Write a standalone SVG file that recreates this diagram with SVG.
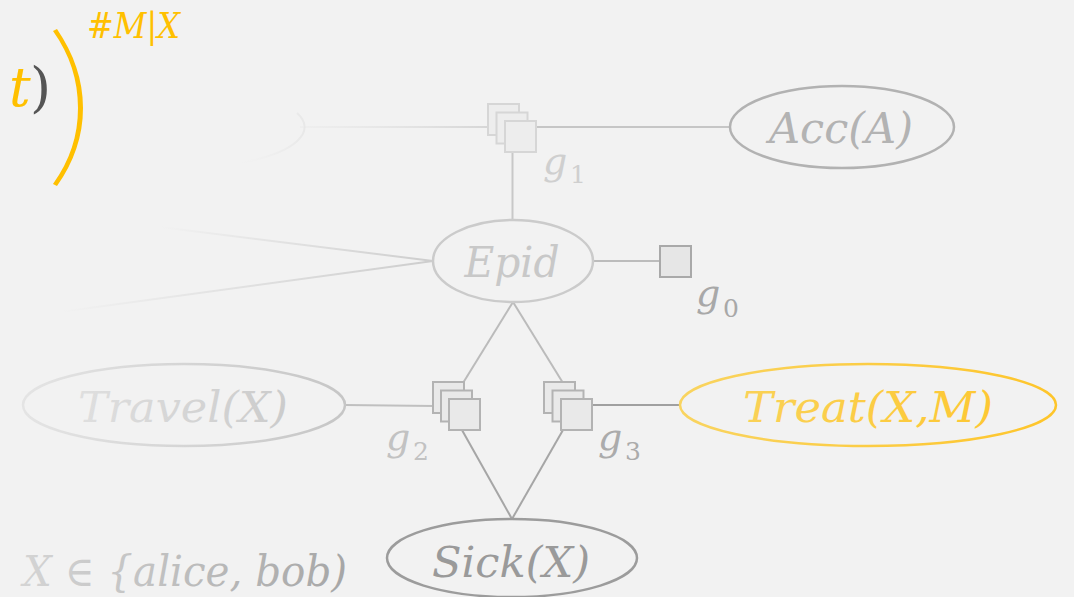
<svg xmlns="http://www.w3.org/2000/svg" width="1074" height="597" viewBox="0 0 1074 597">
  <style>
    .math { font-family: "DejaVu Serif", "Liberation Serif", serif; font-style: italic; }
    .num { font-family: "DejaVu Serif", "Liberation Serif", serif; font-style: normal; }
    .node-text { font-size: 42px; text-anchor: middle; }
    .fac-label { font-size: 38px; }
    .sub { font-size: 25px; }
    .edge { fill: none; stroke-width: 2; }
    .var { fill: none; stroke-width: 2.5; }
    .fac-light { fill: #ededed; stroke: #d6d6d6; stroke-width: 2; }
    .fac { fill: #e9e9e9; stroke: #b3b3b3; stroke-width: 2; }
    .fac-dark { fill: #e6e6e6; stroke: #a9a9a9; stroke-width: 2; }
  </style>
  <defs>
    <linearGradient id="fadeTop" gradientUnits="userSpaceOnUse" x1="300" y1="0" x2="488" y2="0">
      <stop offset="0" stop-color="#e6e6e6" stop-opacity="0.3"/>
      <stop offset="1" stop-color="#d6d6d6"/>
    </linearGradient>
    <linearGradient id="fadeUp" gradientUnits="userSpaceOnUse" x1="160" y1="227" x2="433" y2="261">
      <stop offset="0" stop-color="#d0d0d0" stop-opacity="0"/>
      <stop offset="1" stop-color="#cdcdcd"/>
    </linearGradient>
    <linearGradient id="fadeDown" gradientUnits="userSpaceOnUse" x1="60" y1="312" x2="433" y2="261">
      <stop offset="0" stop-color="#d0d0d0" stop-opacity="0"/>
      <stop offset="1" stop-color="#cdcdcd"/>
    </linearGradient>
    <linearGradient id="travelGrad" gradientUnits="userSpaceOnUse" x1="23" y1="0" x2="345" y2="0">
      <stop offset="0" stop-color="#e4e4e4"/>
      <stop offset="1" stop-color="#c6c6c6"/>
    </linearGradient>
    <linearGradient id="domainGrad" gradientUnits="userSpaceOnUse" x1="23" y1="0" x2="347" y2="0">
      <stop offset="0" stop-color="#d4d4d4"/>
      <stop offset="1" stop-color="#a6a6a6"/>
    </linearGradient>
    <linearGradient id="treatGrad" gradientUnits="userSpaceOnUse" x1="680" y1="0" x2="1057" y2="0">
      <stop offset="0" stop-color="#f9d460"/>
      <stop offset="1" stop-color="#fec52a"/>
    </linearGradient>
    <linearGradient id="ghostGrad" gradientUnits="userSpaceOnUse" x1="240" y1="0" x2="305" y2="0">
      <stop offset="0" stop-color="#eeeeee" stop-opacity="0"/>
      <stop offset="1" stop-color="#e8e8e8"/>
    </linearGradient>
  </defs>

  <!-- backdrop -->
  <rect width="1074" height="597" fill="#f2f2f2"/>

  <!-- formula fragment, top left -->
  <g id="formula">
    <text class="math" x="9" y="106" font-size="54" fill="#ffc000">t</text>
    <text class="num" x="30" y="106" font-size="54" fill="#555555">)</text>
    <path d="M53,31 C70,55 78,80 78,108 C78,136 70,160 53,184 L57,186 C74,162 83,136 83,108 C83,80 74,54 57,29 Z" fill="#ffc000"/>
    <text class="math" x="87" y="38" font-size="36" fill="#ffc000" textLength="93" lengthAdjust="spacingAndGlyphs">#M|X</text>
  </g>

  <!-- connectors -->
  <g id="connectors">
    <path class="edge" d="M297,113 A125,41 0 0 1 240,163" stroke="url(#ghostGrad)"/>
    <line class="edge" x1="300" y1="127" x2="489" y2="127" stroke="url(#fadeTop)"/>
    <line class="edge" x1="536" y1="127" x2="731" y2="127" stroke="#c6c6c6"/>
    <line class="edge" x1="512.5" y1="152" x2="512.5" y2="220" stroke="#c8c8c8"/>
    <line class="edge" x1="433" y1="261" x2="160" y2="227" stroke="url(#fadeUp)"/>
    <line class="edge" x1="433" y1="261" x2="60" y2="312" stroke="url(#fadeDown)"/>
    <line class="edge" x1="593" y1="261" x2="660" y2="261" stroke="#bcbcbc"/>
    <line class="edge" x1="513" y1="302" x2="463" y2="383" stroke="#bbbbbb"/>
    <line class="edge" x1="513" y1="302" x2="563" y2="383" stroke="#bbbbbb"/>
    <line class="edge" x1="462" y1="430" x2="512" y2="519" stroke="#a6a6a6"/>
    <line class="edge" x1="563" y1="430" x2="512" y2="519" stroke="#a6a6a6"/>
    <line class="edge" x1="345" y1="405" x2="434" y2="406" stroke="#c0c0c0"/>
    <line class="edge" x1="591" y1="405" x2="681" y2="405" stroke="#a0a0a0"/>
  </g>

  <!-- factor g1 -->
  <g id="g1">
    <rect class="fac-light" x="488" y="104" width="31" height="31"/>
    <rect class="fac-light" x="496.5" y="112.5" width="31" height="31"/>
    <rect class="fac-light" x="505" y="121" width="31" height="31"/>
    <text class="math fac-label" x="543" y="174" fill="#cfcfcf">g</text>
    <text class="num sub" x="570" y="183" fill="#cfcfcf">1</text>
  </g>

  <!-- factor g0 -->
  <g id="g0">
    <rect class="fac-dark" x="660" y="246" width="31" height="31"/>
    <text class="math fac-label" x="696" y="306" fill="#a8a8a8">g</text>
    <text class="num sub" x="723" y="317" fill="#a8a8a8">0</text>
  </g>

  <!-- factor g2 -->
  <g id="g2">
    <rect class="fac" x="433" y="382" width="31" height="31"/>
    <rect class="fac" x="441" y="390.5" width="31" height="31"/>
    <rect class="fac" x="449" y="399" width="31" height="31"/>
    <text class="math fac-label" x="386" y="450" fill="#c2c2c2">g</text>
    <text class="num sub" x="413" y="460" fill="#c2c2c2">2</text>
  </g>

  <!-- factor g3 -->
  <g id="g3">
    <rect class="fac" x="544" y="382" width="31" height="31"/>
    <rect class="fac" x="552.5" y="390.5" width="31" height="31"/>
    <rect class="fac" x="561" y="399" width="31" height="31"/>
    <text class="math fac-label" x="598" y="450" fill="#ababab">g</text>
    <text class="num sub" x="625" y="460" fill="#ababab">3</text>
  </g>

  <!-- variable Acc(A) -->
  <g id="acc">
    <ellipse class="var" cx="842" cy="127" rx="112" ry="41" stroke="#b2b2b2"/>
    <text class="math node-text" x="841" y="143" fill="#b3b3b3" textLength="144" lengthAdjust="spacingAndGlyphs">Acc(A)</text>
  </g>

  <!-- variable Epid -->
  <g id="epid">
    <ellipse class="var" cx="513" cy="261" rx="80" ry="41" stroke="#cbcbcb"/>
    <text class="math node-text" x="512" y="277" fill="#c8c8c8" textLength="95" lengthAdjust="spacingAndGlyphs">Epid</text>
  </g>

  <!-- variable Travel(X) -->
  <g id="travel">
    <ellipse class="var" cx="184" cy="405" rx="161" ry="41" stroke="url(#travelGrad)"/>
    <text class="math node-text" x="183" y="422" fill="url(#travelGrad)" textLength="210" lengthAdjust="spacingAndGlyphs">Travel(X)</text>
  </g>

  <!-- variable Treat(X,M) -->
  <g id="treat">
    <ellipse class="var" cx="868" cy="405" rx="188" ry="41" stroke="url(#treatGrad)"/>
    <text class="math node-text" x="868" y="422" fill="url(#treatGrad)" textLength="250" lengthAdjust="spacingAndGlyphs">Treat(X,M)</text>
  </g>

  <!-- variable Sick(X) -->
  <g id="sick">
    <ellipse class="var" cx="512" cy="558" rx="125" ry="39" stroke="#9c9c9c"/>
    <text class="math node-text" x="511" y="577" fill="#9a9a9a" textLength="158" lengthAdjust="spacingAndGlyphs">Sick(X)</text>
  </g>

  <!-- domain of X -->
  <g id="domain">
    <text class="math" x="23" y="586" font-size="42" fill="url(#domainGrad)" textLength="324" lengthAdjust="spacingAndGlyphs">X ∈ {alice, bob)</text>
  </g>
</svg>
